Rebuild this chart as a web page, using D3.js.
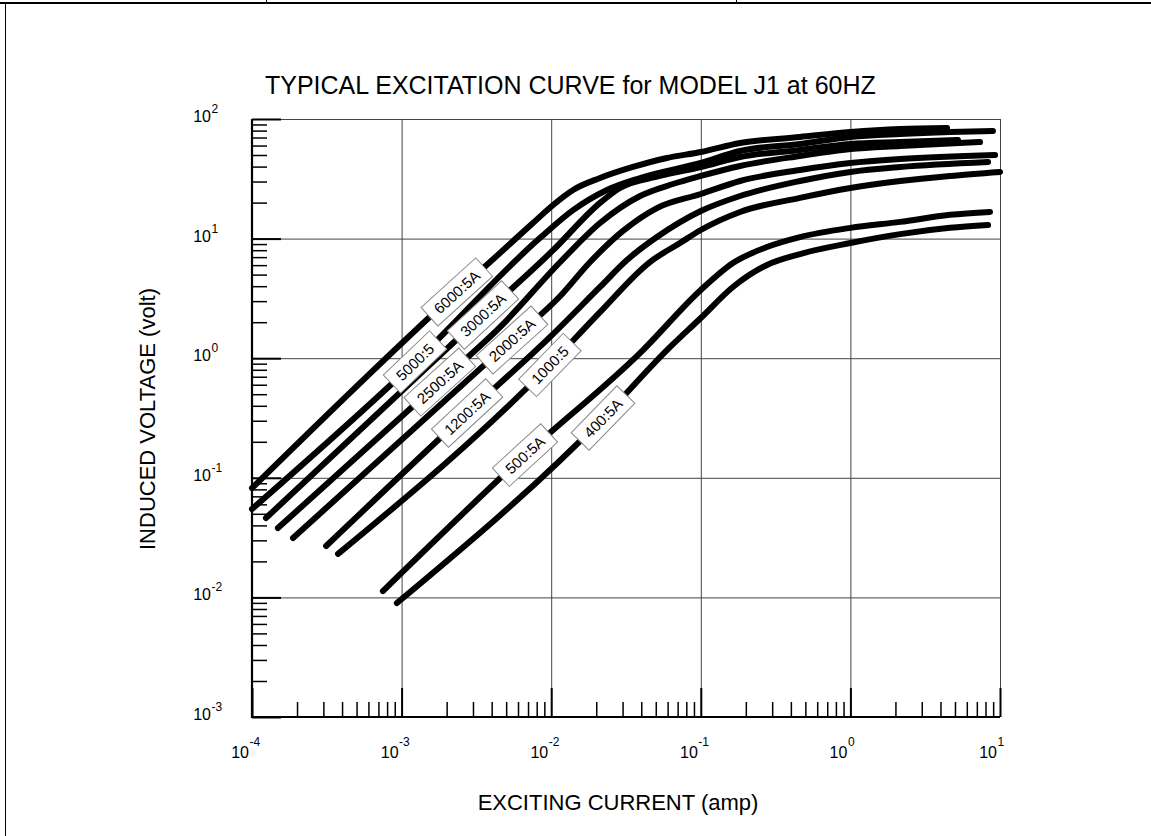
<!DOCTYPE html>
<html><head><meta charset="utf-8">
<script src="https://cdn.jsdelivr.net/npm/d3@7"></script>
<style>
body{margin:0;background:#fff}
svg{display:block}
text{font-family:"Liberation Sans",Arial,Helvetica,sans-serif;fill:#000}
</style>
</head><body>
<svg id="c" width="1151" height="836"></svg>
<script>
// ---------------- data (exciting current in A, induced voltage in V) ----------------
const ratios = ["6000:5A","5000:5","3000:5A","2500:5A","2000:5A","1200:5A","1000:5","500:5A","400:5A"];

const I6000 = [0.0001,0.00234,0.0039,0.00755,0.0103,0.014,0.0212,0.0352,0.0594,0.1,0.183,0.46,1.0,2.15,4.43];
const V6000 = [0.082,3.58,6.37,13.5,19.1,25.5,32.1,39.7,47.2,53,63,70.7,77.8,82.5,84];

const I5000 = [0.0001,0.00123,0.0084,0.014,0.0236,0.0393,0.1,0.183,0.46,1.0,2.15,4.63,8.97];
const V5000 = [0.0548,0.929,10.1,17.3,25.5,32.1,42.9,54.0,61.8,70.7,74.9,77.8,79.4];

const I3000 = [0.000124,0.0035,0.0103,0.0212,0.0288,0.0533,0.1,0.183,0.46,1.0,2.15,5.24];
const V3000 = [0.0461,2.30,8.0,19.9,26.5,33.4,39.7,48.1,55.1,61.8,64.2,66.7];

const I2500 = [0.000149,0.0018,0.00455,0.0115,0.0212,0.0393,0.0652,0.1,0.183,0.46,1.0,2.15,7.35];
const V2500 = [0.038,0.632,1.82,6.37,13.5,22.7,28.6,33.4,40.5,49.1,56.1,59.5,64.2];

const I2000 = [0.000188,0.00547,0.0115,0.0182,0.0302,0.0509,0.1,0.183,0.46,1.0,2.15,9.27];
const V2000 = [0.0314,1.42,3.31,6.37,11.6,18.0,23.6,30.3,37.5,42.9,46.3,50.0];

const I1200 = [0.000313,0.00274,0.0098,0.0212,0.0321,0.0509,0.1,0.183,0.46,1.0,2.15,8.32];
const V1200 = [0.0269,0.348,1.50,3.94,6.62,10.3,17.0,22.7,30.3,36.1,39.7,43.7];

const I1000 = [0.000376,0.0098,0.0212,0.0457,0.0726,0.1,0.183,0.46,1.0,2.15,4.63,10];
const V1000 = [0.0231,0.877,2.43,6.37,9.19,11.8,16.7,21.9,26.5,30.3,33.4,36.1];

const I500 = [0.00075,0.00668,0.0411,0.1,0.164,0.277,0.46,1.0,2.15,4.63,8.57];
const V500 = [0.0113,0.155,1.17,3.72,6.25,8.51,10.3,12.3,13.8,15.8,16.7];

const I400 = [0.00093,0.0222,0.0594,0.1,0.164,0.277,0.46,1.0,2.15,4.63,8.32];
const V400 = [0.00898,0.316,1.17,2.17,3.94,6.02,7.43,9.19,10.9,12.3,13.0];

// current at which each ratio label sits on its curve
const labelCurrent = [0.00234,0.00123,0.0035,0.0018,0.00547,0.00274,0.0098,0.00668,0.0222];

const xTickValues = [1e-4,1e-3,1e-2,1e-1,1,10];
const xTickExp = ["-4","-3","-2","-1","0","1"];
const yTickValues = [1e-3,1e-2,1e-1,1,10,100];
const yTickExp = ["-3","-2","-1","0","1","2"];

const titleText = "TYPICAL EXCITATION CURVE for  MODEL J1 at 60HZ";
const xTitle = "EXCITING CURRENT (amp)";
const yTitle = "INDUCED VOLTAGE (volt)";

// ---------------- drawing ----------------
const currents = [I6000,I5000,I3000,I2500,I2000,I1200,I1000,I500,I400];
const volts    = [V6000,V5000,V3000,V2500,V2000,V1200,V1000,V500,V400];
const series = ratios.map((r,i)=>({name:r, pts: currents[i].map((c,j)=>[c, volts[i][j]]), at: labelCurrent[i]}));

const svg = d3.select("#c");
const L = 252, R = 1000, T = 119, B = 717;
const x = d3.scaleLog().domain([1e-4,10]).range([L,R]);
const y = d3.scaleLog().domain([1e-3,100]).range([B,T]);

// page border
svg.append("line").attr("x1",0).attr("x2",1151).attr("y1",3).attr("y2",3).attr("stroke","#000").attr("stroke-width",2.2);
svg.append("line").attr("x1",5.5).attr("x2",5.5).attr("y1",3).attr("y2",836).attr("stroke","#000").attr("stroke-width",1);
[266,736].forEach(px=>svg.append("line").attr("x1",px+0.5).attr("x2",px+0.5).attr("y1",0).attr("y2",3).attr("stroke","#000").attr("stroke-width",1));

// minor tick values
const minorX = [], minorY = [];
xTickValues.slice(0,-1).forEach(d=>{for(let k=2;k<=9;k++) minorX.push(k*d);});
yTickValues.slice(0,-1).forEach(d=>{for(let k=2;k<=9;k++) minorY.push(k*d);});

function styleAxis(g, color, width){
  g.select(".domain").remove();
  g.selectAll(".tick line").attr("stroke",color).attr("stroke-width",width);
  g.selectAll(".tick text").remove();
}
// grid
svg.append("g").attr("transform",`translate(0,${B})`)
  .call(d3.axisBottom(x).tickValues(xTickValues).tickSize(-(B-T)).tickFormat(""))
  .call(g=>styleAxis(g,"#444",1));
svg.append("g").attr("transform",`translate(${L},0)`)
  .call(d3.axisLeft(y).tickValues(yTickValues).tickSize(-(R-L)).tickFormat(""))
  .call(g=>styleAxis(g,"#444",1));
// major ticks
svg.append("g").attr("transform",`translate(0,${B})`)
  .call(d3.axisBottom(x).tickValues(xTickValues).tickSize(-29).tickFormat(""))
  .call(g=>styleAxis(g,"#000",2));
svg.append("g").attr("transform",`translate(${L},0)`)
  .call(d3.axisLeft(y).tickValues(yTickValues).tickSize(-29).tickFormat(""))
  .call(g=>styleAxis(g,"#000",2));
// minor ticks
svg.append("g").attr("transform",`translate(0,${B})`)
  .call(d3.axisBottom(x).tickValues(minorX).tickSize(-15).tickFormat(""))
  .call(g=>styleAxis(g,"#000",1.5));
svg.append("g").attr("transform",`translate(${L},0)`)
  .call(d3.axisLeft(y).tickValues(minorY).tickSize(-15).tickFormat(""))
  .call(g=>styleAxis(g,"#000",1.5));
// axis lines
svg.append("line").attr("x1",L).attr("x2",L).attr("y1",T).attr("y2",B+1).attr("stroke","#000").attr("stroke-width",2.2);
svg.append("line").attr("x1",L-1).attr("x2",R).attr("y1",B).attr("y2",B).attr("stroke","#000").attr("stroke-width",2.2);

// tick labels
xTickValues.forEach((v,i)=>{
  const px = x(v);
  svg.append("text").attr("x",px-3).attr("y",758).attr("text-anchor","end").attr("font-size",16).text("10");
  svg.append("text").attr("x",px-2.5).attr("y",746).attr("font-size",12).text(xTickExp[i]);
});
yTickValues.forEach((v,i)=>{
  const py = y(v);
  svg.append("text").attr("x",211).attr("y",py+3).attr("text-anchor","end").attr("font-size",16).text("10");
  svg.append("text").attr("x",211.5).attr("y",py-6).attr("font-size",12).text(yTickExp[i]);
});

// titles
svg.append("text").attr("x",265).attr("y",94).attr("font-size",25).text(titleText);
svg.append("text").attr("x",618).attr("y",810).attr("text-anchor","middle").attr("font-size",22).text(xTitle);
svg.append("text").attr("transform","translate(155,419) rotate(-90)").attr("text-anchor","middle").attr("font-size",22).text(yTitle);

// curves
const line = d3.line().x(d=>x(d[0])).y(d=>y(d[1])).curve(d3.curveMonotoneX);
const paths = series.map(s=>svg.append("path").datum(s.pts).attr("d",line)
  .attr("fill","none").attr("stroke","#000").attr("stroke-width",6)
  .attr("stroke-linecap","round").attr("stroke-linejoin","round").node());

// labels
series.forEach((s,i)=>{
  const p = paths[i], px = x(s.at), total = p.getTotalLength();
  let lo=0, hi=total;
  for(let k=0;k<40;k++){const m=(lo+hi)/2; if(p.getPointAtLength(m).x<px) lo=m; else hi=m;}
  const c = p.getPointAtLength(lo), a = p.getPointAtLength(Math.max(0,lo-8)), b = p.getPointAtLength(Math.min(total,lo+8));
  const ang = Math.atan2(b.y-a.y, b.x-a.x)*180/Math.PI;
  const g = svg.append("g").attr("transform",`translate(${c.x},${c.y}) rotate(${ang})`);
  const rect = g.append("rect");
  const t = g.append("text").attr("text-anchor","middle").attr("dy","0.36em").attr("font-size",15).text(s.name);
  const w = t.node().getComputedTextLength()+18, h = 25;
  rect.attr("x",-w/2).attr("y",-h/2).attr("width",w).attr("height",h).attr("fill","#fff").attr("stroke","#888").attr("stroke-width",1);
});
</script>
</body></html>
